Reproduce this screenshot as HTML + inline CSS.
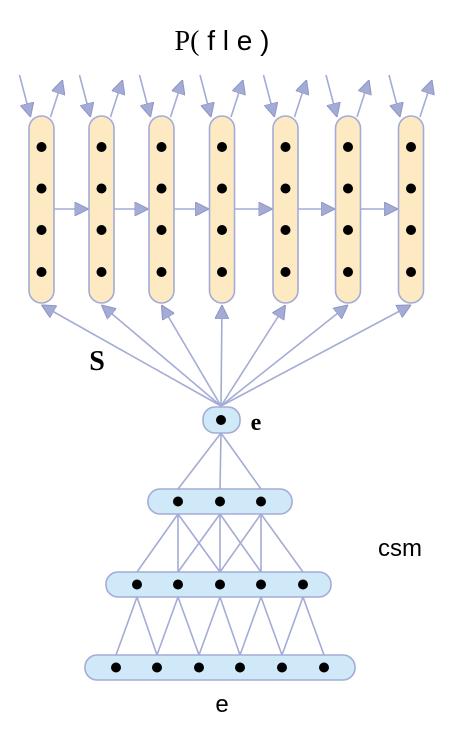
<!DOCTYPE html>
<html><head><meta charset="utf-8"><style>
html,body{margin:0;padding:0;background:#fff;width:461px;height:751px;overflow:hidden}
svg{display:block}
</style></head><body>
<svg id="d" width="461" height="751" viewBox="0 0 461 751">
<defs>
<marker id="ah" viewBox="0 0 10 10" refX="10" refY="5" markerWidth="14" markerHeight="14" markerUnits="userSpaceOnUse" orient="auto">
<path d="M0,0 L10,5 L0,10 z" fill="#a4acd6" stroke="#8f98c8" stroke-width="0.8"/>
</marker>
</defs>
<text x="222" y="50" font-family="Liberation Sans, sans-serif" font-size="28" text-anchor="middle"><tspan font-family="Liberation Serif, serif">P(</tspan> f l e )</text>
<text x="97" y="370" font-family="Liberation Serif, serif" font-size="28" font-weight="bold" text-anchor="middle">S</text>
<text x="256" y="430" font-family="Liberation Serif, serif" font-size="24" font-weight="bold" text-anchor="middle">e</text>
<text x="400" y="556" font-family="Liberation Sans, sans-serif" font-size="24" text-anchor="middle">csm</text>
<text x="222" y="712" font-family="Liberation Sans, sans-serif" font-size="24" text-anchor="middle">e</text>
<g id="g"></g>
</svg>
<script>
const colX = [41.5, 101.5, 161.5, 222, 285.5, 348, 411];
const colDotY = [147, 188.5, 230, 272];
const layerDots = [[178, 220, 261], [137, 178, 220, 261, 303], [116, 157, 199, 240, 282, 324]];
const layerBox = [[148, 292, 489, 514], [106, 331, 572, 597], [85, 355, 655, 680]];
const eNode = [221, 420];

const NS = 'http://www.w3.org/2000/svg';
const g = document.getElementById('g');
function mk(t, a) { const e = document.createElementNS(NS, t); for (const k in a) e.setAttribute(k, a[k]); g.appendChild(e); return e; }
const LC = '#a4acd6';

const eb = 433;
layerDots[0].forEach(x => { const l = mk('line', {x1: eNode[0], y1: eb, x2: x, y2: layerBox[0][2], stroke: LC, 'stroke-width': 1.6});

 });
layerDots[0].forEach((x, i) => { for (let j = i; j < i + 3; j++) { const l = mk('line', {x1: x, y1: layerBox[0][3], x2: layerDots[1][j], y2: layerBox[1][2], stroke: LC, 'stroke-width': 1.6});

 } });
layerDots[1].forEach((x, i) => { for (let j = i; j < i + 2; j++) { const l = mk('line', {x1: x, y1: layerBox[1][3], x2: layerDots[2][j], y2: layerBox[2][2], stroke: LC, 'stroke-width': 1.6});

 } });

colX.forEach(x => { const l = mk('line', {x1: eNode[0], y1: 406, x2: x, y2: 305, stroke: LC, 'stroke-width': 1.6, 'marker-end': 'url(#ah)'});

 });

colX.forEach((x, i) => {
  const top1 = mk('line', {x1: x - 22, y1: 75, x2: x - 11, y2: 117, stroke: LC, 'stroke-width': 1.6, 'marker-end': 'url(#ah)'});
  
  
  const top2 = mk('line', {x1: x + 9, y1: 117, x2: x + 21, y2: 80, stroke: LC, 'stroke-width': 1.6, 'marker-end': 'url(#ah)'});
  
  
  if (i < colX.length - 1) {
    const h = mk('line', {x1: x + 13, y1: 209, x2: colX[i + 1] - 13, y2: 209, stroke: LC, 'stroke-width': 1.6, 'marker-end': 'url(#ah)'});
    
    
  }
  const r = mk('rect', {x: x - 12.5, y: 116, width: 25, height: 187, rx: 12.5, fill: '#fde9c2', stroke: '#a4acd6', 'stroke-width': 1.6});
  
  
  colDotY.forEach(y => { const c = mk('circle', {cx: x, cy: y, r: 5, fill: '#000'});
  
   });
});

const en = mk('rect', {x: 203, y: 407, width: 37, height: 26, rx: 12, fill: '#cfe9f8', stroke: '#a4acd6', 'stroke-width': 1.6});


const ed = mk('circle', {cx: eNode[0], cy: eNode[1], r: 5, fill: '#000'});



layerBox.forEach((b, k) => {
  const r = mk('rect', {x: b[0], y: b[2], width: b[1] - b[0], height: b[3] - b[2], rx: 12, fill: '#cfe9f8', stroke: '#a4acd6', 'stroke-width': 1.6});
  
  
  layerDots[k].forEach(x => { const c = mk('circle', {cx: x, cy: (b[2] + b[3]) / 2, r: 5, fill: '#000'});
  
   });
});
</script>
</body></html>
